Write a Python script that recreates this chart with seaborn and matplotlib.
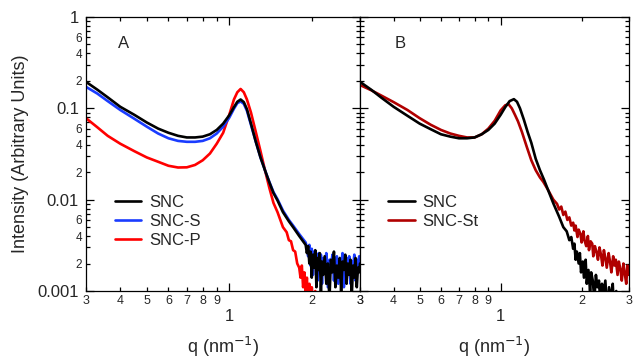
import matplotlib
matplotlib.use("Agg")
import matplotlib.pyplot as plt
import seaborn as sns
import pandas as pd
import numpy as np

# ---- data ----
q_a = [0.30, 0.33, 0.36, 0.40, 0.45, 0.50, 0.55, 0.60, 0.65, 0.70, 0.75, 0.80, 0.85, 0.90, 0.95,
       1.00, 1.04, 1.07, 1.10, 1.13, 1.16, 1.20, 1.25, 1.30, 1.35, 1.40, 1.45, 1.50, 1.57, 1.65,
       1.71, 1.80, 1.90,
       1.92, 1.94, 1.96, 1.98, 2.00, 2.02, 2.04, 2.06, 2.08, 2.10, 2.12, 2.14, 2.16, 2.18, 2.20,
       2.23, 2.26, 2.29, 2.32, 2.35, 2.38, 2.41, 2.44, 2.47, 2.50, 2.53, 2.56, 2.59, 2.62, 2.65,
       2.68, 2.71, 2.74, 2.77, 2.80, 2.83, 2.86, 2.89, 2.92, 2.95, 2.98, 3.00]
snc_a = [0.195, 0.160, 0.132, 0.104, 0.085, 0.070, 0.060, 0.054, 0.050, 0.048, 0.048, 0.049, 0.052,
         0.058, 0.068, 0.084, 0.103, 0.118, 0.125, 0.117, 0.098, 0.068, 0.043, 0.029, 0.021, 0.0155,
         0.0118, 0.0098, 0.0073, 0.0058, 0.0050, 0.0040, 0.0032,
         0.0026, 0.0031, 0.0020, 0.0027, 0.0014, 0.0025, 0.0018, 0.0028, 0.0011, 0.0023, 0.0017,
         0.0026, 0.0009, 0.0021, 0.0015, 0.0024, 0.0012, 0.0020, 0.0008, 0.0022, 0.0016, 0.0027,
         0.0011, 0.0019, 0.0014, 0.0023, 0.0010, 0.0021, 0.0017, 0.0025, 0.0012, 0.0020, 0.0015,
         0.0022, 0.0009, 0.0019, 0.0014, 0.0023, 0.0011, 0.0018, 0.0016, 0.0020]
sncs_a = [0.172, 0.145, 0.120, 0.096, 0.077, 0.063, 0.053, 0.047, 0.044, 0.043, 0.043, 0.044, 0.047,
          0.053, 0.063, 0.079, 0.099, 0.114, 0.119, 0.112, 0.094, 0.066, 0.043, 0.029, 0.021, 0.0157,
          0.0121, 0.0101, 0.0076, 0.0060, 0.0052, 0.0042, 0.0034,
          0.0030, 0.0024, 0.0032, 0.0019, 0.0029, 0.0015, 0.0027, 0.0021, 0.0024, 0.0013, 0.0026,
          0.0018, 0.0025, 0.0012, 0.0023, 0.0017, 0.0026, 0.0011, 0.0022, 0.0019, 0.0025, 0.0013,
          0.0021, 0.0024, 0.0012, 0.0022, 0.0018, 0.0026, 0.0011, 0.0020, 0.0023, 0.0015, 0.0024,
          0.0012, 0.0021, 0.0018, 0.0025, 0.0013, 0.0022, 0.0019, 0.0024, 0.0021]

q_p = [0.30, 0.33, 0.36, 0.40, 0.45, 0.50, 0.55, 0.60, 0.65, 0.70, 0.75, 0.80, 0.85, 0.90, 0.95,
       1.00, 1.04, 1.07, 1.10, 1.13, 1.16, 1.20, 1.25, 1.30, 1.35, 1.40, 1.45, 1.50, 1.57, 1.62,
       1.65, 1.68, 1.71, 1.74, 1.77, 1.80, 1.82, 1.84, 1.86, 1.88, 1.90, 1.92, 1.94, 1.96, 1.98,
       2.00, 2.03, 2.06, 2.09, 2.12, 2.15]
sncp_a = [0.078, 0.062, 0.050, 0.041, 0.034, 0.029, 0.026, 0.0235, 0.0225, 0.0226, 0.024, 0.027,
          0.032, 0.041, 0.054, 0.085, 0.125, 0.150, 0.163, 0.150, 0.125, 0.090, 0.055, 0.034, 0.021,
          0.0135, 0.0092, 0.0073, 0.0050, 0.0044, 0.0036, 0.0035, 0.0028, 0.0027, 0.0020, 0.0018,
          0.0014, 0.0019, 0.0011, 0.0016, 0.0009, 0.0014, 0.0007, 0.0012, 0.0006, 0.0011, 0.0005,
          0.0010, 0.0004, 0.0008, 0.0003]

q_b = [0.30, 0.33, 0.36, 0.40, 0.45, 0.50, 0.55, 0.60, 0.65, 0.70, 0.75, 0.80, 0.85, 0.90, 0.95,
       1.00, 1.04, 1.08, 1.12, 1.15, 1.18, 1.22, 1.26, 1.30, 1.35, 1.40, 1.45, 1.50, 1.57, 1.65,
       1.71, 1.76, 1.80, 1.83, 1.86,
       1.88, 1.90, 1.92, 1.95, 1.97, 1.99, 2.02, 2.04, 2.07, 2.09, 2.12, 2.15, 2.17, 2.20, 2.23,
       2.26, 2.29, 2.32, 2.35, 2.38, 2.41, 2.45, 2.49, 2.53, 2.57, 2.61, 2.65, 2.69, 2.72]
snc_b = [0.195, 0.160, 0.131, 0.104, 0.083, 0.068, 0.059, 0.052, 0.049, 0.047, 0.047, 0.048, 0.052,
         0.058, 0.068, 0.085, 0.103, 0.120, 0.126, 0.118, 0.100, 0.075, 0.055, 0.042, 0.028, 0.021,
         0.0165, 0.0128, 0.0091, 0.0065, 0.0050, 0.0045, 0.0036, 0.0039, 0.0029,
         0.0033, 0.0022, 0.0027, 0.0020, 0.0026, 0.0016, 0.0021, 0.0014, 0.0022, 0.0012, 0.0017,
         0.0010, 0.0016, 0.0013, 0.0008, 0.0015, 0.0011, 0.0013, 0.0007, 0.0012, 0.0009, 0.0013,
         0.0006, 0.0011, 0.0008, 0.0012, 0.0005, 0.0010, 0.0004]

q_st = [0.30, 0.33, 0.36, 0.40, 0.45, 0.50, 0.55, 0.60, 0.65, 0.70, 0.75, 0.80, 0.85, 0.90, 0.95,
        1.00, 1.04, 1.07, 1.10, 1.13, 1.16, 1.20, 1.25, 1.30, 1.35, 1.40, 1.44, 1.50, 1.57, 1.62,
        1.65, 1.68, 1.71, 1.74, 1.77, 1.80, 1.83, 1.86,
        1.88, 1.90, 1.93, 1.95, 1.98, 2.00, 2.03, 2.05, 2.08, 2.11, 2.13, 2.16, 2.19, 2.21, 2.24,
        2.27, 2.30, 2.33, 2.36, 2.39, 2.42, 2.45, 2.48, 2.52, 2.55, 2.58, 2.62, 2.65, 2.68, 2.72,
        2.75, 2.79, 2.82, 2.86, 2.89, 2.93, 2.96, 3.00]
sncst_b = [0.180, 0.158, 0.138, 0.117, 0.096, 0.078, 0.066, 0.058, 0.053, 0.050, 0.048, 0.048,
           0.052, 0.060, 0.073, 0.095, 0.108, 0.111, 0.100, 0.085, 0.072, 0.055, 0.038, 0.027,
           0.021, 0.0175, 0.0157, 0.0128, 0.0100, 0.0090, 0.0078, 0.0084, 0.0068, 0.0074, 0.0060,
           0.0064, 0.0052, 0.0056,
           0.0046, 0.0052, 0.0039, 0.0047, 0.0042, 0.0034, 0.0045, 0.0036, 0.0031, 0.0040, 0.0028,
           0.0035, 0.0033, 0.0024, 0.0031, 0.0027, 0.0022, 0.0030, 0.0025, 0.0019, 0.0028, 0.0023,
           0.0018, 0.0026, 0.0021, 0.0016, 0.0024, 0.0019, 0.0022, 0.0015, 0.0021, 0.0017, 0.0013,
           0.0020, 0.0016, 0.0012, 0.0019, 0.0015]

panel_a = [("SNC", q_a, snc_a, "black"),
           ("SNC-S", q_a, sncs_a, "#1a3cff"),
           ("SNC-P", q_p, sncp_a, "#ff0000")]
panel_b = [("SNC", q_b, snc_b, "black"),
           ("SNC-St", q_st, sncst_b, "#b00000")]

x_minor = [0.3, 0.4, 0.5, 0.6, 0.7, 0.8, 0.9, 2, 3]
x_minor_labels = ["3", "4", "5", "6", "7", "8", "9", "2", "3"]
y_major = [0.001, 0.01, 0.1, 1]
y_major_labels = ["0.001", "0.01", "0.1", "1"]

sns.set_style("ticks")
plt.rcParams["font.family"] = ["Liberation Sans", "DejaVu Sans"]

fig = plt.figure(figsize=(6.36, 3.58), dpi=100)
ax1 = fig.add_axes([86 / 636, 67 / 358, 274 / 636, 274 / 358])
ax2 = fig.add_axes([360 / 636, 67 / 358, 269 / 636, 274 / 358])

for ax, series, tag in [(ax1, panel_a, "A"), (ax2, panel_b, "B")]:
    handles = {}
    for name, q, inten, col in reversed(series):
        df = pd.DataFrame({"q": q, "I": inten})
        sns.lineplot(data=df, x="q", y="I", color=col, lw=1.9, estimator=None,
                     sort=False, ax=ax)
        handles[name] = ax.lines[-1]
    ax.set_xscale("log")
    ax.set_yscale("log")
    ax.set_xlim(0.3, 3.0)
    ax.set_ylim(0.001, 1)

    ax.set_xticks([1], ["1"])
    ax.set_xticks(x_minor, x_minor_labels, minor=True)
    y_minor = [k * 10.0 ** n for n in (-3, -2, -1) for k in range(2, 10)]
    y_minor_lab = [str(k) if k in (2, 4, 6) else "" for n in (-3, -2, -1) for k in range(2, 10)]
    ax.set_yticks(y_major, y_major_labels)
    ax.set_yticks(y_minor, y_minor_lab, minor=True)

    ax.tick_params(which="both", direction="in", top=True, right=True, width=0.9, color="black")
    ax.tick_params(which="major", length=6)
    ax.tick_params(which="minor", length=3)
    ax.tick_params(axis="x", which="major", pad=13, labelsize=12)
    ax.tick_params(axis="x", which="minor", pad=3, labelsize=9)
    ax.tick_params(axis="y", which="major", pad=5, labelsize=12)
    ax.tick_params(axis="y", which="minor", pad=3, labelsize=8.5)
    for sp in ax.spines.values():
        sp.set_linewidth(0.9)
        sp.set_color("black")

    ax.set_xlabel("q (nm$^{-1}$)", fontsize=13, labelpad=8)
    ax.set_ylabel("")
    ax.text(0.115 if tag == "A" else 0.13, 0.905, tag, transform=ax.transAxes,
            fontsize=12, ha="left", va="center")

    names = [s[0] for s in series]
    ax.legend([handles[n] for n in names], names, loc="upper left",
              bbox_to_anchor=(0.105, 0.35), frameon=False, fontsize=12,
              handlelength=1.6, handletextpad=0.45, labelspacing=0.24,
              borderpad=0, borderaxespad=0)

ax2.tick_params(axis="y", which="both", labelleft=False)
ax1.set_ylabel("Intensity (Arbitrary Units)", fontsize=13, labelpad=6)

fig.savefig("out.png", dpi=100)
